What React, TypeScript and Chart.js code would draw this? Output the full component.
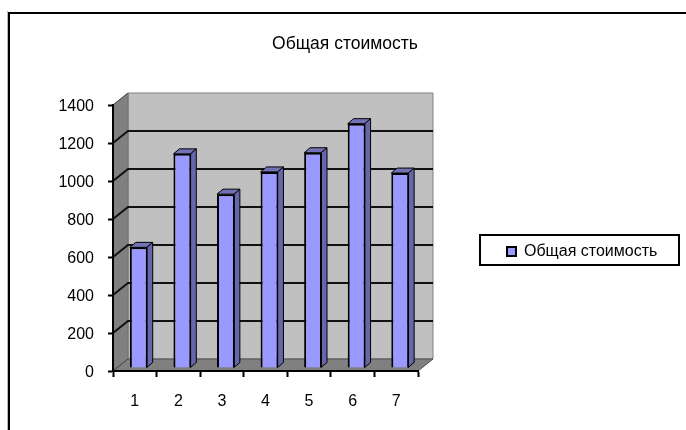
import React, { useEffect, useRef } from "react";
import { Chart, registerables } from "chart.js";

Chart.register(...registerables);

const categories = ["1", "2", "3", "4", "5", "6", "7"];
const totalCost = [635, 1127, 915, 1032, 1133, 1286, 1026];
const seriesName = "Общая стоимость";
const FONT = "'Liberation Sans', Arial, sans-serif";
const DEPTH_X = 15;
const DEPTH_Y = 12;
const BAR_SHIFT_X = 4;
const BAR_SHIFT_Y = -3;
const BAR_DX = 6;
const BAR_DY = 5;

const poly = (ctx: CanvasRenderingContext2D, pts: number[][], fill: string, stroke?: string, lw = 1) => {
  ctx.beginPath();
  pts.forEach((p, i) => (i ? ctx.lineTo(p[0], p[1]) : ctx.moveTo(p[0], p[1])));
  ctx.closePath();
  ctx.fillStyle = fill;
  ctx.fill();
  if (stroke) {
    ctx.strokeStyle = stroke;
    ctx.lineWidth = lw;
    ctx.stroke();
  }
};

const scene = {
  id: "scene",
  afterLayout(chart: any) {
    const lg = chart.legend;
    lg.left = 497; lg.right = 680; lg.top = 237; lg.bottom = 266;
    lg.width = 183; lg.height = 29;
    const t = chart.titleBlock;
    t.left = 0; t.right = 690; t.width = 690; t.top = 35; t.bottom = 52;
    chart.scales.y.getLabelItems(chart.chartArea).forEach((it: any) => {
      it.options.translation[1] += 2;
    });
  },
  beforeDraw(chart: any) {
    const ctx: CanvasRenderingContext2D = chart.ctx;
    const { x, y } = chart.scales;
    const L = x.left, R = x.right;
    const B = y.getPixelForValue(0), T = y.getPixelForValue(1400);
    ctx.save();
    ctx.fillStyle = "#fff";
    ctx.fillRect(0, 0, chart.width, chart.height);
    // page frame
    ctx.fillStyle = "#b8b8b8";
    ctx.fillRect(7, 11, 1, 419);
    ctx.fillStyle = "#000";
    ctx.fillRect(8, 12, 678, 2);
    ctx.fillRect(8, 12, 2, 418);
    // walls
    poly(ctx, [[L + DEPTH_X, T - DEPTH_Y], [R + DEPTH_X, T - DEPTH_Y], [R + DEPTH_X, B - DEPTH_Y], [L + DEPTH_X, B - DEPTH_Y]], "#c0c0c0", "#808080", 1);
    poly(ctx, [[L, T], [L + DEPTH_X, T - DEPTH_Y], [L + DEPTH_X, B - DEPTH_Y], [L, B]], "#808080", "#707070", 1);
    poly(ctx, [[L, B], [R, B], [R + DEPTH_X, B - DEPTH_Y], [L + DEPTH_X, B - DEPTH_Y]], "#808080", "#505050", 1);
    // gridlines on side and back walls
    y.ticks.forEach((tk: any) => {
      const py = y.getPixelForValue(tk.value);
      const edge = tk.value === 0 || tk.value === 1400;
      ctx.beginPath();
      ctx.moveTo(L, py);
      ctx.lineTo(L + DEPTH_X, py - DEPTH_Y);
      if (!edge) ctx.lineTo(R + DEPTH_X, py - DEPTH_Y);
      ctx.strokeStyle = edge ? "#505050" : "#111";
      ctx.lineWidth = edge ? 1 : 2;
      ctx.stroke();
    });
    ctx.restore();
  },
  beforeDatasetsDraw(chart: any) {
    const ctx: CanvasRenderingContext2D = chart.ctx;
    ctx.save();
    ctx.translate(BAR_SHIFT_X, BAR_SHIFT_Y);
    chart.getDatasetMeta(0).data.forEach((b: any) => {
      const l = b.x - b.width / 2, r = b.x + b.width / 2;
      const top = b.y, base = b.base;
      poly(ctx, [[r - 1, top], [r - 1 + BAR_DX, top - BAR_DY], [r - 1 + BAR_DX, base - BAR_DY], [r - 1, base]], "#6666aa", "#000", 1);
      poly(ctx, [[l, top], [l + BAR_DX, top - BAR_DY], [r + BAR_DX - 1, top - BAR_DY], [r - 1, top]], "#7272b4", "#000", 1);
    });
  },
  afterDatasetsDraw(chart: any) {
    const ctx: CanvasRenderingContext2D = chart.ctx;
    ctx.restore();
    ctx.save();
    ctx.strokeStyle = "#000";
    ctx.lineWidth = 2;
    ctx.strokeRect(480, 235, 199, 30);
    ctx.restore();
  },
};

export default function App() {
  const ref = useRef<HTMLCanvasElement>(null);
  useEffect(() => {
    document.body.style.margin = "0";
    const chart = new Chart(ref.current as HTMLCanvasElement, {
      type: "bar",
      data: {
        labels: categories,
        datasets: [
          {
            label: seriesName,
            data: totalCost,
            backgroundColor: "#9999ff",
            borderColor: "#000",
            borderWidth: 2,
            categoryPercentage: 1,
            barPercentage: 0.41,
            clip: false,
          } as any,
        ],
      },
      plugins: [scene],
      options: {
        responsive: false,
        animation: false,
        layout: { padding: { left: 0, right: 268, top: 0, bottom: 0 } },
        plugins: {
          tooltip: { enabled: false },
          title: {
            display: true,
            text: seriesName,
            color: "#000",
            font: { family: FONT, size: 17.5, weight: "normal", lineHeight: 1 },
            padding: { top: 0, bottom: 87.5 },
          },
          legend: {
            display: true,
            position: "chartArea",
            labels: {
              boxWidth: 9,
              boxHeight: 9,
              padding: 10,
              color: "#000",
              font: { family: FONT, size: 16 },
            },
          },
        },
        scales: {
          x: {
            grid: { drawOnChartArea: false, drawTicks: true, tickLength: 6, tickWidth: 2, tickColor: "#000", offset: true },
            border: { color: "#000", width: 2 },
            ticks: { color: "#000", padding: 15, font: { family: FONT, size: 16 }, maxRotation: 0 },
            afterFit(s: any) { s.height = 59; },
          },
          y: {
            min: 0,
            max: 1400,
            grid: { drawOnChartArea: false, drawTicks: true, tickLength: 5, tickWidth: 2, tickColor: "#000" },
            border: { color: "#000", width: 2 },
            ticks: { stepSize: 200, color: "#000", padding: 14, font: { family: FONT, size: 16 }, callback: (v: any) => String(v) },
            afterFit(s: any) { s.width = 113; },
          },
        },
      } as any,
    });
    return () => chart.destroy();
  }, []);
  return <canvas ref={ref} width={686} height={430} style={{ display: "block" }} />;
}
